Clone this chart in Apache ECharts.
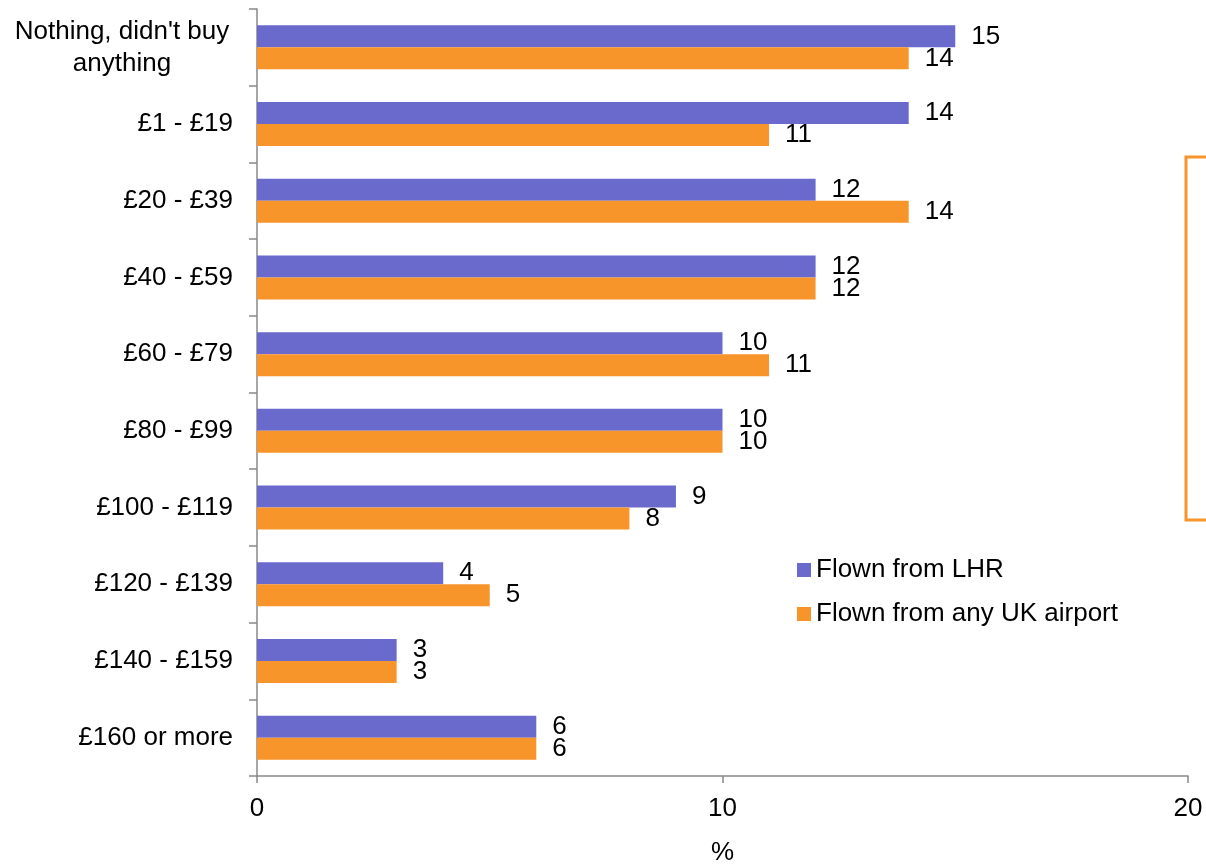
<!DOCTYPE html>
<html>
<head>
<meta charset="utf-8">
<script src="https://cdn.jsdelivr.net/npm/echarts@6/dist/echarts.min.js"></script>
<style>html,body{margin:0;padding:0;background:#fff;}#c{width:1206px;height:864px;}</style>
</head>
<body>
<div id="c"></div>
<script>
var categories = ["Nothing, didn't buy anything", "£1 - £19", "£20 - £39", "£40 - £59", "£60 - £79", "£80 - £99", "£100 - £119", "£120 - £139", "£140 - £159", "£160 or more"];
var lhrValues = [15, 14, 12, 12, 10, 10, 9, 4, 3, 6];
var ukValues = [14, 11, 14, 12, 11, 10, 8, 5, 3, 6];
var xTicks = [0, 10, 20];

var chart = echarts.init(document.getElementById('c'));
var font = 'Arial, "Liberation Sans", sans-serif';
var labelStyle = {show: true, position: 'right', distance: 16, color: '#000', fontSize: 26, fontFamily: font};
chart.setOption({
  animation: false,
  textStyle: {fontFamily: font},
  grid: {left: 257, right: 18, top: 9, bottom: 88, containLabel: false, outerBoundsMode: 'none'},
  legend: {
    orient: 'vertical', left: 797, top: 557, padding: 0, itemWidth: 14, itemHeight: 14, itemGap: 18,
    icon: 'rect',
    textStyle: {fontSize: 26, color: '#000', fontFamily: font},
    data: ['Flown from LHR', 'Flown from any UK airport']
  },
  xAxis: {
    type: 'value', min: xTicks[0], max: xTicks[xTicks.length - 1], interval: 10,
    name: '%', nameLocation: 'middle', nameGap: 64,
    nameTextStyle: {fontSize: 26, color: '#000', fontFamily: font},
    axisLine: {show: true, lineStyle: {color: '#898989', width: 1.5}},
    axisTick: {show: true, length: 7, lineStyle: {color: '#898989', width: 1.5}},
    axisLabel: {fontSize: 26, color: '#000', margin: 20, fontFamily: font},
    splitLine: {show: false}
  },
  yAxis: {
    type: 'category', data: categories, inverse: true,
    axisLine: {show: true, lineStyle: {color: '#898989', width: 1.5}},
    axisTick: {show: true, length: 8, lineStyle: {color: '#898989', width: 1.5}},
    axisLabel: {
      fontSize: 26, color: '#000', margin: 24, fontFamily: font,
      formatter: function (v) {
        if (v === categories[0]) return "{w|Nothing, didn't buy}\n{w|anything}";
        return v;
      },
      rich: {w: {width: 222, align: 'center', fontSize: 26, lineHeight: 32, fontFamily: font, color: '#000'}}
    }
  },
  series: [
    {name: 'Flown from LHR', type: 'bar', data: lhrValues, barWidth: 22, barGap: '0%',
     itemStyle: {color: '#6A6ACD'}, label: labelStyle},
    {name: 'Flown from any UK airport', type: 'bar', data: ukValues, barWidth: 22, barGap: '0%',
     itemStyle: {color: '#F7952A'}, label: labelStyle}
  ],
  graphic: [{
    type: 'rect',
    shape: {x: 1186, y: 157, width: 40, height: 363},
    style: {fill: 'none', stroke: '#F7952A', lineWidth: 3}
  }]
});
</script>
</body>
</html>
